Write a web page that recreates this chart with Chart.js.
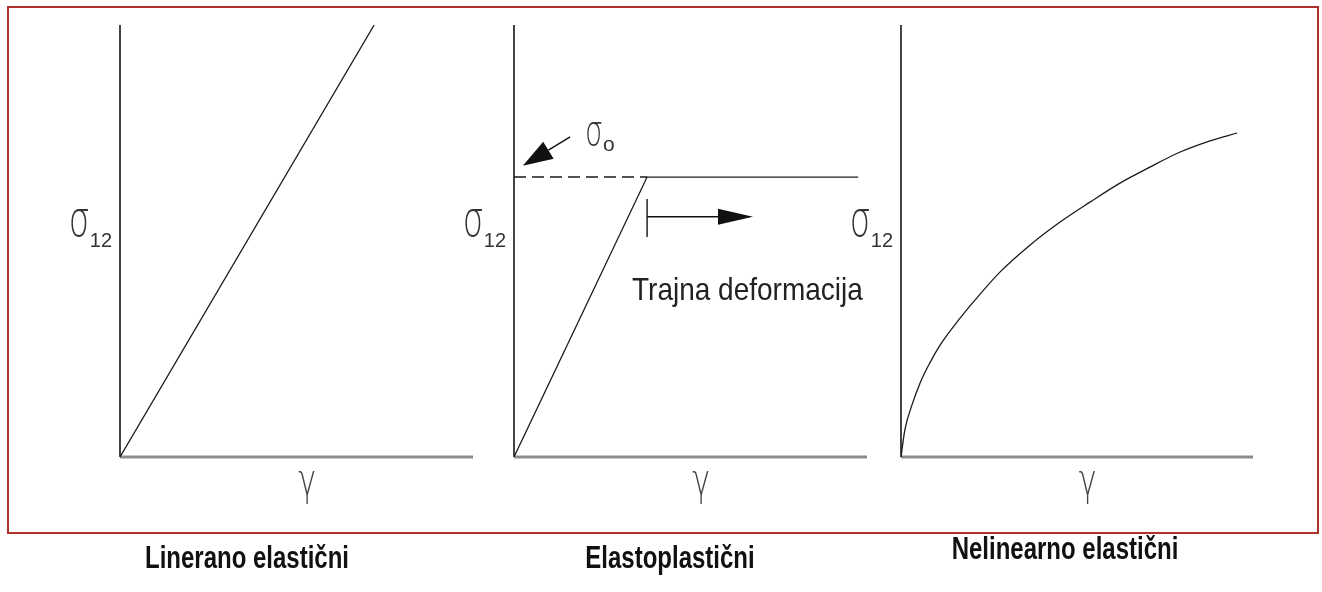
<!DOCTYPE html>
<html>
<head>
<meta charset="utf-8">
<script src="https://cdn.jsdelivr.net/npm/chart.js@4/dist/chart.umd.min.js"></script>
<style>
  html, body { margin: 0; padding: 0; background: #fff; }
  #page { position: relative; width: 1322px; height: 592px; overflow: hidden; }
  #frame { position: absolute; left: 7px; top: 6px; width: 1312px; height: 528px;
           border: 2px solid #b0302c; box-sizing: border-box; }
  canvas { position: absolute; left: 0; top: 0; }
</style>
</head>
<body>
<div id="page">
  <div id="frame"></div>
  <canvas id="linear" width="1322" height="592"></canvas>
  <canvas id="plastic" width="1322" height="592"></canvas>
  <canvas id="nonlinear" width="1322" height="592"></canvas>
</div>
<script>
// strain (gamma) and stress (sigma12) in percent of each axis
const linearStrain = [0, 72];
const linearStress = [0, 100];

const plasticStrain = [0, 37.7, 97.5];
const plasticStress = [0, 64.8, 64.8];
const yieldStrain = [0, 37.7];
const yieldStress = [64.8, 64.8];

const nonlinStrain = [0, 1.1, 3.1, 5.4, 8.2, 11.1, 15.3, 21.0, 28.1, 36.7, 45.2, 53.7, 62.2, 70.7, 79.3, 87.8, 95.5];
const nonlinStress = [0, 6.3, 12.0, 17.1, 21.8, 25.9, 30.6, 36.3, 42.8, 49.1, 54.4, 59.0, 63.4, 67.1, 70.6, 73.2, 75.0];

const titles = ['Linerano elastični', 'Elastoplastični', 'Nelinearno elastični'];
const xLabel = 'γ';
const yLabel = ['σ', '12'];
const yieldLabel = ['σ', 'o'];
const flowLabel = 'Trajna deformacija';

const SANS = '"Liberation Sans", Arial, sans-serif';
const THIN = '"DejaVu Sans ExtraLight", "DejaVu Sans", sans-serif';

function points(xs, ys) {
    return xs.map(function (x, i) { return { x: x, y: ys[i] }; });
}

function stretchedText(ctx, text, x, y, font, sy, align) {
    ctx.save();
    ctx.translate(x, y);
    ctx.scale(1, sy);
    ctx.font = font;
    ctx.textAlign = align || 'left';
    ctx.textBaseline = 'alphabetic';
    ctx.fillText(text, 0, 0);
    ctx.restore();
}

function arrow(ctx, x1, y1, x2, y2, len, half) {
    const a = Math.atan2(y2 - y1, x2 - x1);
    const bx = x2 - Math.cos(a) * len, by = y2 - Math.sin(a) * len;
    ctx.beginPath();
    ctx.moveTo(x1, y1);
    ctx.lineTo(bx, by);
    ctx.stroke();
    ctx.beginPath();
    ctx.moveTo(x2, y2);
    ctx.lineTo(bx + Math.sin(a) * half, by - Math.cos(a) * half);
    ctx.lineTo(bx - Math.sin(a) * half, by + Math.cos(a) * half);
    ctx.closePath();
    ctx.fill();
}

// axes lines, the sigma/gamma labels and the caption under each panel
const panelPlugin = {
    id: 'panel',
    beforeDatasetsDraw(chart) {
        const { ctx, scales: { x, y } } = chart;
        const x0 = x.getPixelForValue(0), y0 = y.getPixelForValue(0);
        ctx.save();
        ctx.strokeStyle = '#8c8c8c';
        ctx.lineWidth = 3;
        ctx.beginPath();
        ctx.moveTo(x0, y0);
        ctx.lineTo(x.getPixelForValue(100), y0);
        ctx.stroke();
        ctx.strokeStyle = '#444';
        ctx.lineWidth = 2;
        ctx.beginPath();
        ctx.moveTo(x0, y.getPixelForValue(100));
        ctx.lineTo(x0, y0);
        ctx.stroke();
        ctx.restore();
    },
    afterDraw(chart) {
        const { ctx, scales: { x, y } } = chart;
        const opts = chart.options.plugins.panel;
        const x0 = x.getPixelForValue(0), y0 = y.getPixelForValue(0);
        ctx.save();
        ctx.fillStyle = '#333';
        // sigma 12 at the left of the y axis
        const right = x0 - 8;
        ctx.font = '20px ' + SANS;
        const w = ctx.measureText(yLabel[1]).width;
        stretchedText(ctx, yLabel[1], right, 247, '20px ' + SANS, 1.05, 'right');
        stretchedText(ctx, yLabel[0], right - w, 236, '200 33px ' + THIN, 1.5, 'right');
        // gamma under the x axis
        ctx.fillStyle = '#444';
        stretchedText(ctx, xLabel, x.getPixelForValue(53), y0 + 38, '200 30px ' + THIN, 1.5, 'center');
        // caption
        ctx.fillStyle = '#111';
        stretchedText(ctx, opts.title, opts.titleX, opts.titleY, 'bold 24px ' + SANS, 1.3, 'center');
        ctx.restore();
    }
};

// yield level pointer and flow arrow of the elastoplastic panel
const flowPlugin = {
    id: 'flow',
    afterDraw(chart) {
        const { ctx, scales: { x, y } } = chart;
        ctx.save();
        ctx.strokeStyle = '#111';
        ctx.fillStyle = '#111';
        ctx.lineWidth = 1.4;
        // stop mark and arrow to the right
        const sx = x.getPixelForValue(37.7);
        ctx.beginPath();
        ctx.moveTo(sx, y.getPixelForValue(59.7));
        ctx.lineTo(sx, y.getPixelForValue(50.9));
        ctx.stroke();
        arrow(ctx, sx, y.getPixelForValue(55.6), x.getPixelForValue(67.7), y.getPixelForValue(55.6), 35, 8);
        // pointer towards the yield level
        arrow(ctx, x.getPixelForValue(15.9), y.getPixelForValue(74.1),
              x.getPixelForValue(2.5), y.getPixelForValue(67.4), 30, 10);
        // sigma o
        ctx.fillStyle = '#333';
        stretchedText(ctx, yieldLabel[0], 585, 145, '200 28px ' + THIN, 1.5, 'left');
        stretchedText(ctx, yieldLabel[1], 603, 151, '21px ' + SANS, 1.0, 'left');
        // text
        ctx.fillStyle = '#222';
        stretchedText(ctx, flowLabel, 632, 300, '28px ' + SANS, 1.1, 'left');
        ctx.restore();
    }
};

function lineSet(data, extra) {
    return Object.assign({
        data: data,
        showLine: true,
        borderColor: '#1a1a1a',
        borderWidth: 1.3,
        pointRadius: 0,
        fill: false
    }, extra || {});
}

function makePanel(id, pad, datasets, panel, extraPlugins) {
    return new Chart(document.getElementById(id), {
        type: 'scatter',
        data: { datasets: datasets },
        options: {
            responsive: false,
            animation: false,
            events: [],
            layout: { padding: pad },
            scales: {
                x: { type: 'linear', min: 0, max: 100, display: false },
                y: { type: 'linear', min: 0, max: 100, display: false }
            },
            plugins: {
                legend: { display: false },
                tooltip: { enabled: false },
                panel: panel
            }
        },
        plugins: [panelPlugin].concat(extraPlugins || [])
    });
}

makePanel('linear',
    { left: 120, top: 25, right: 1322 - 473, bottom: 592 - 457 },
    [lineSet(points(linearStrain, linearStress))],
    { title: titles[0], titleX: 247, titleY: 568 });

makePanel('plastic',
    { left: 514, top: 25, right: 1322 - 867, bottom: 592 - 457 },
    [
        lineSet(points(plasticStrain, plasticStress)),
        lineSet(points(yieldStrain, yieldStress), { borderDash: [12, 6], borderWidth: 1.5 })
    ],
    { title: titles[1], titleX: 670, titleY: 568 },
    [flowPlugin]);

makePanel('nonlinear',
    { left: 901, top: 25, right: 1322 - 1253, bottom: 592 - 457 },
    [lineSet(points(nonlinStrain, nonlinStress), { cubicInterpolationMode: 'monotone' })],
    { title: titles[2], titleX: 1065, titleY: 559 });
</script>
</body>
</html>
